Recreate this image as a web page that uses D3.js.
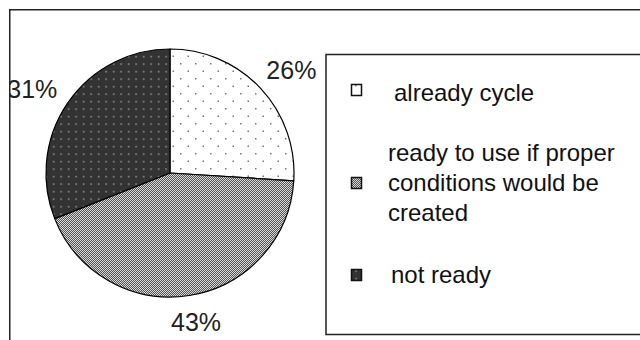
<!DOCTYPE html>
<html>
<head>
<meta charset="utf-8">
<script src="https://cdn.jsdelivr.net/npm/d3@7"></script>
<style>
  html, body { margin: 0; padding: 0; background: #fff; }
  svg { display: block; }
  text { font-family: "Liberation Sans", Arial, sans-serif; }
</style>
</head>
<body>
<svg id="chart" width="640" height="340"></svg>
<script>
// Survey answers: share of respondents per group
const categories = ["already cycle", "ready to use if proper conditions would be created", "not ready"];
const values = [26, 43, 31];
const legendLines = [
  ["already cycle"],
  ["ready to use if proper", "conditions would be", "created"],
  ["not ready"]
];

const W = 640, H = 340;
const svg = d3.select("#chart");
const defs = svg.append("defs");

// Fill patterns: dotted white, fine grey checker, dark with light dots
const pWhite = defs.append("pattern").attr("id", "p0")
  .attr("patternUnits", "userSpaceOnUse").attr("width", 15).attr("height", 15);
pWhite.append("rect").attr("width", 15).attr("height", 15).attr("fill", "#fff");
pWhite.append("rect").attr("x", 2.5).attr("y", 2.5).attr("width", 1.5).attr("height", 1.5).attr("fill", "#777");
pWhite.append("rect").attr("x", 10).attr("y", 10).attr("width", 1.5).attr("height", 1.5).attr("fill", "#777");

const pGrey = defs.append("pattern").attr("id", "p1")
  .attr("patternUnits", "userSpaceOnUse").attr("width", 2).attr("height", 2);
pGrey.append("rect").attr("width", 2).attr("height", 2).attr("fill", "#d8d8d8");
pGrey.append("rect").attr("x", 0).attr("y", 0).attr("width", 1).attr("height", 1).attr("fill", "#555");
pGrey.append("rect").attr("x", 1).attr("y", 1).attr("width", 1).attr("height", 1).attr("fill", "#555");

const pDark = defs.append("pattern").attr("id", "p2")
  .attr("patternUnits", "userSpaceOnUse").attr("width", 7.5).attr("height", 7.5);
pDark.append("rect").attr("width", 7.5).attr("height", 7.5).attr("fill", "#333");
pDark.append("rect").attr("x", 3).attr("y", 3).attr("width", 1.3).attr("height", 1.3).attr("fill", "#bbb");

const fills = ["url(#p0)", "url(#p1)", "url(#p2)"];

// Plot area frame and clip
defs.append("clipPath").attr("id", "plotClip")
  .append("rect").attr("x", 10).attr("y", 10).attr("width", W).attr("height", H);

const plot = svg.append("g").attr("clip-path", "url(#plotClip)");

// Pie
const cx = 170, cy = 173, r = 124;
const pie = d3.pie().sort(null).value(d => d)(values);
const arc = d3.arc().innerRadius(0).outerRadius(r);

const g = plot.append("g").attr("transform", `translate(${cx},${cy})`);
g.selectAll("path.slice")
  .data(pie)
  .join("path")
  .attr("class", "slice")
  .attr("d", arc)
  .attr("fill", (d, i) => fills[i])
  .attr("stroke", "#000")
  .attr("stroke-width", 1.2)
  .attr("stroke-linejoin", "round");

// Percentage labels placed just outside the rim
const fmt = d => d3.format(".0f")(d) + "%";
const labelGap = 17, lblW = 51, lblH = 19;
g.selectAll("text.pct")
  .data(pie)
  .join("text")
  .attr("class", "pct")
  .each(function (d) {
    const a = (d.startAngle + d.endAngle) / 2;
    const ux = Math.sin(a), uy = -Math.cos(a);
    const x = (r + labelGap) * ux + ux * lblW / 2;
    const y = (r + labelGap) * uy + uy * lblH / 2;
    d3.select(this).attr("x", x).attr("y", y + lblH / 2);
  })
  .attr("text-anchor", "middle")
  .attr("font-size", 25)
  .attr("fill", "#222")
  .text(d => fmt(d.data));

// Chart frame
svg.append("rect")
  .attr("x", 9.75).attr("y", 9.75)
  .attr("width", W).attr("height", H)
  .attr("fill", "none").attr("stroke", "#222").attr("stroke-width", 1.5);

// Legend
const legend = svg.append("g");
legend.append("rect")
  .attr("x", 326).attr("y", 54.5)
  .attr("width", W).attr("height", 280)
  .attr("fill", "#fff").attr("stroke", "#222").attr("stroke-width", 1.5);

const itemY = [90, 183, 275];
const lineH = 30;
const items = legend.selectAll("g.item")
  .data(categories)
  .join("g")
  .attr("class", "item")
  .attr("transform", (d, i) => `translate(0,${itemY[i]})`);

items.append("rect")
  .attr("x", 351.5).attr("y", -5.5)
  .attr("width", 10).attr("height", 11)
  .attr("fill", (d, i) => fills[i])
  .attr("stroke", "#111").attr("stroke-width", 1.5);

items.each(function (d, i) {
  const lines = legendLines[i];
  const t = d3.select(this).append("text")
    .attr("font-size", 24)
    .attr("fill", "#111");
  const first = 8 - (lines.length - 1) * lineH / 2 + (i === 0 ? 3 : 0);
  lines.forEach((ln, k) => {
    t.append("tspan")
      .attr("x", i === 0 ? 394 : (i === 1 ? 388 : 391))
      .attr("y", first + k * lineH)
      .text(ln);
  });
});
</script>
</body>
</html>
